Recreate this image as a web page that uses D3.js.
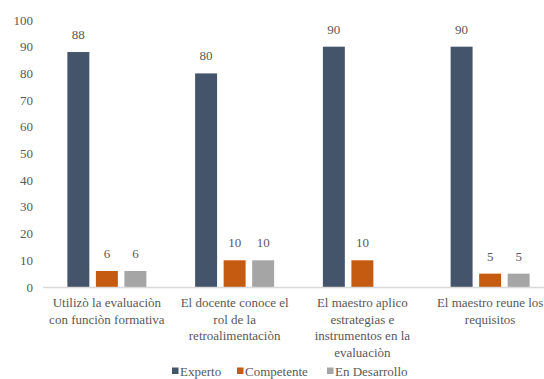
<!DOCTYPE html>
<html>
<head>
<meta charset="utf-8">
<script src="https://cdn.jsdelivr.net/npm/d3@7"></script>
</head>
<body style="margin:0;background:#fff">
<svg id="chart" width="544" height="379" font-family="Liberation Serif, Times New Roman, serif" style="display:block"></svg>
<script>
// Data
const categories = [
  'Utilizò la evaluaciòn\ncon funciòn formativa',
  'El docente conoce el\nrol de la\nretroalimentaciòn',
  'El maestro aplico\nestrategias e\ninstrumentos en la\nevaluaciòn',
  'El maestro reune los\nrequisitos'
];
const seriesNames = ['Experto', 'Competente', 'En Desarrollo'];
const experto = [88, 80, 90, 90];
const competente = [6, 10, 10, 5];
const enDesarrollo = [6, 10, null, 5];
const yTicks = [0, 10, 20, 30, 40, 50, 60, 70, 80, 90, 100];

const colors = ['#44546A', '#C55A11', '#A5A5A5'];
const textColor = '#595959';
const serif = 'Liberation Serif, Times New Roman, serif';

const seriesValues = [experto, competente, enDesarrollo];

const svg = d3.select('#chart');

const x = d3.scaleBand()
  .domain(categories)
  .range([43, 554])
  .paddingInner(0)
  .paddingOuter(0);

const y = d3.scaleLinear()
  .domain([0, 100])
  .range([287, 20]);

// inner scale for series inside each category
const groupW = 79;
const xs = d3.scaleBand()
  .domain(seriesNames)
  .range([(x.bandwidth() - groupW) / 2, (x.bandwidth() + groupW) / 2])
  .paddingInner(0.23);

// Y tick labels (no axis line, no gridlines)
svg.append('g')
  .selectAll('text')
  .data(yTicks)
  .join('text')
  .attr('x', 33)
  .attr('y', d => y(d))
  .attr('dy', '0.35em')
  .attr('text-anchor', 'end')
  .attr('fill', textColor)
  .attr('font-size', 13)
  .attr('font-family', serif)
  .text(d => d);

// Bars
const groups = svg.append('g')
  .selectAll('g')
  .data(categories)
  .join('g')
  .attr('transform', d => `translate(${x(d)},0)`);

groups.each(function(cat, ci) {
  const g = d3.select(this);
  seriesNames.forEach((s, si) => {
    const v = seriesValues[si][ci];
    if (v == null) return;
    g.append('rect')
      .attr('x', xs(s))
      .attr('y', y(v))
      .attr('width', xs.bandwidth())
      .attr('height', y(0) - y(v))
      .attr('fill', colors[si]);
    g.append('text')
      .attr('x', xs(s) + xs.bandwidth() / 2)
      .attr('y', y(v) - 13)
      .attr('text-anchor', 'middle')
      .attr('fill', textColor)
      .attr('font-size', 13)
      .attr('font-family', serif)
      .text(v);
  });
});

// X axis line
svg.append('line')
  .attr('x1', x.range()[0])
  .attr('x2', x.range()[1])
  .attr('y1', y(0) + 0.5)
  .attr('y2', y(0) + 0.5)
  .attr('stroke', '#D9D9D9')
  .attr('stroke-width', 1.5);

// Category labels
svg.append('g')
  .selectAll('text')
  .data(categories)
  .join('text')
  .attr('text-anchor', 'middle')
  .attr('fill', textColor)
  .attr('font-size', 13)
  .attr('font-family', serif)
  .each(function(d) {
    const t = d3.select(this);
    d.split('\n').forEach((line, i) => {
      t.append('tspan')
        .attr('x', x(d) + x.bandwidth() / 2)
        .attr('y', 307 + i * 16.5)
        .text(line);
    });
  });

// Legend
const legendX = [172, 237, 327];
const legend = svg.append('g')
  .selectAll('g')
  .data(seriesNames)
  .join('g')
  .attr('transform', (d, i) => `translate(${legendX[i]},371)`);

legend.append('rect')
  .attr('x', 0)
  .attr('y', -3.5)
  .attr('width', 6.5)
  .attr('height', 6.5)
  .attr('fill', (d, i) => colors[i]);

legend.append('text')
  .attr('x', 8)
  .attr('y', 0)
  .attr('dy', '0.35em')
  .attr('fill', textColor)
  .attr('font-size', 13)
  .attr('font-family', serif)
  .text(d => d);
</script>
</body>
</html>
